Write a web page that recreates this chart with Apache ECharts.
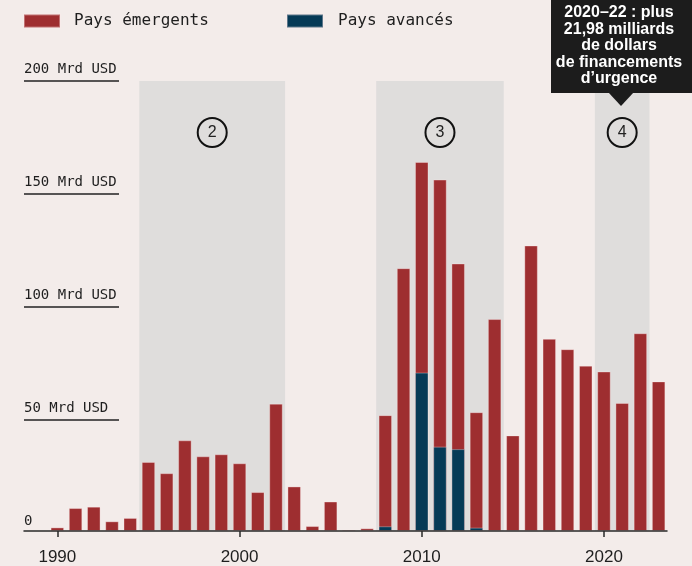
<!DOCTYPE html>
<html>
<head>
<meta charset="utf-8">
<script src="https://cdn.jsdelivr.net/npm/echarts@6/dist/echarts.min.js"></script>
<style>
  html, body { margin: 0; padding: 0; background: #f3ecea; }
  #chart { width: 692px; height: 566px; }
</style>
</head>
<body>
<div id="chart"></div>
<script>
var years = [1990, 1991, 1992, 1993, 1994, 1995, 1996, 1997, 1998, 1999,
             2000, 2001, 2002, 2003, 2004, 2005, 2006, 2007, 2008, 2009,
             2010, 2011, 2012, 2013, 2014, 2015, 2016, 2017, 2018, 2019,
             2020, 2021, 2022, 2023];
// Mrd USD, pays émergents (partie rouge)
var emerging = [1.6, 10.2, 10.8, 4.3, 5.8, 30.7, 25.7, 40.3, 33.2, 34.1,
                30.1, 17.3, 56.6, 19.8, 2.2, 13.1, 0.6, 1.2, 49.4, 116.8,
                93.6, 118.7, 82.5, 51.3, 94.2, 42.5, 126.9, 85.4, 80.8, 73.5,
                70.9, 56.9, 87.9, 66.5];
// Mrd USD, pays avancés (partie bleue)
var advanced = [0, 0, 0, 0, 0, 0, 0, 0, 0, 0,
                0, 0, 0, 0, 0, 0, 0, 0, 2.1, 0,
                70.4, 37.5, 36.4, 1.5, 0, 0, 0, 0, 0, 0,
                0, 0, 0, 0];
var periods = [
  { from: 1994.5, to: 2002.5, label: '2' },
  { from: 2007.5, to: 2014.5, label: '3' },
  { from: 2019.5, to: 2022.5, label: '4' }
];
var yearTicks = [1990, 2000, 2010, 2020];
var note = ['2020–22 : plus', '21,98 milliards', 'de dollars', 'de financements', 'd’urgence'];

var RED = '#9e2e30';
var BLUE = '#053a56';
var INK = '#1e1e1e';
var MONO = '"DejaVu Sans Mono", monospace';
var EDGE = 'rgba(255,235,235,0.35)';

// rouge = barre totale (émergents empilés sur avancés), bleu dessiné par-dessus
var totalPairs = years.map(function (y, i) { return [y, emerging[i] + advanced[i]]; });
var advancedPairs = years.map(function (y, i) { return [y, advanced[i] > 0 ? advanced[i] : null]; });

var chart = echarts.init(document.getElementById('chart'));
var legendItem = function (left, name, gap) {
  return {
    left: left, top: 8, itemWidth: 36, itemHeight: 13, icon: 'rect',
    textStyle: { fontFamily: MONO, fontSize: 16, color: INK, padding: [0, 0, 0, gap] },
    data: [name]
  };
};
var option = {
  backgroundColor: '#f3ecea',
  animation: false,
  legend: [
    legendItem(18, 'Pays émergents', 9),
    legendItem(281, 'Pays avancés', 10)
  ],
  grid: [
    { left: 24, right: 25, top: 81, bottom: 33 },
    { left: 24, width: 95, top: 81, bottom: 33 }
  ],
  xAxis: [{
    type: 'value', min: 1988.17, max: 2023.46, z: 10,
    splitLine: { show: false },
    axisLine: { lineStyle: { color: '#2a2a2a', width: 1.5 } },
    axisTick: { show: true, length: 6, customValues: yearTicks, lineStyle: { color: '#2a2a2a', width: 1.5 } },
    axisLabel: {
      customValues: yearTicks, color: INK, fontFamily: 'Liberation Sans', fontSize: 17, margin: 18,
      formatter: function (v) { return String(v); }
    }
  }, {
    type: 'value', gridIndex: 1, show: false, min: 0, max: 1
  }],
  yAxis: [{
    type: 'value', min: 0, max: 200, show: false
  }, {
    type: 'value', gridIndex: 1, min: 0, max: 200, interval: 50,
    axisLine: { show: false }, axisTick: { show: false },
    splitLine: { showMinLine: false, lineStyle: { color: '#222', width: 1.5 } },
    axisLabel: {
      inside: true, margin: 0, align: 'left', verticalAlign: 'bottom',
      padding: [0, 0, 5, 0],
      color: INK, fontFamily: MONO, fontSize: 14,
      formatter: function (v) { return v === 0 ? '0' : v + ' Mrd USD'; }
    }
  }],
  series: [{
    name: 'Pays émergents', type: 'bar', barWidth: 13.5, barGap: '-100%',
    itemStyle: { color: RED, borderColor: EDGE, borderWidth: 1 },
    data: totalPairs,
    markArea: {
      silent: true,
      itemStyle: { color: '#dfdddc' },
      label: {
        show: true, position: 'insideTop', distance: 37,
        formatter: function (p) { return '{c|' + p.name + '}'; },
        rich: {
          c: {
            width: 29, height: 29, lineHeight: 29, align: 'center',
            borderColor: '#111', borderWidth: 2, borderRadius: 17,
            fontFamily: 'Liberation Sans', fontSize: 16, color: '#222'
          }
        }
      },
      data: periods.map(function (p) {
        return [{ name: p.label, xAxis: p.from, yAxis: 0 }, { xAxis: p.to, yAxis: 200 }];
      })
    }
  }, {
    name: 'Pays avancés', type: 'bar', barWidth: 13.5, barGap: '-100%', z: 3,
    itemStyle: { color: BLUE, borderColor: EDGE, borderWidth: 1 },
    data: advancedPairs
  }],
  graphic: [
    { type: 'rect', z: 100, shape: { x: 551, y: 0, width: 145, height: 93 }, style: { fill: '#1c1c1c' } },
    { type: 'polygon', z: 100, shape: { points: [[608, 92], [634, 92], [621, 106]] }, style: { fill: '#1c1c1c' } },
    {
      type: 'text', z: 101, x: 619, y: 45.7,
      style: {
        text: note.join('\n'), fill: '#fff', align: 'center', verticalAlign: 'middle',
        fontFamily: 'Liberation Sans', fontWeight: 'bold', fontSize: 16, lineHeight: 16.5
      }
    }
  ]
};
chart.setOption(option);
</script>
</body>
</html>
